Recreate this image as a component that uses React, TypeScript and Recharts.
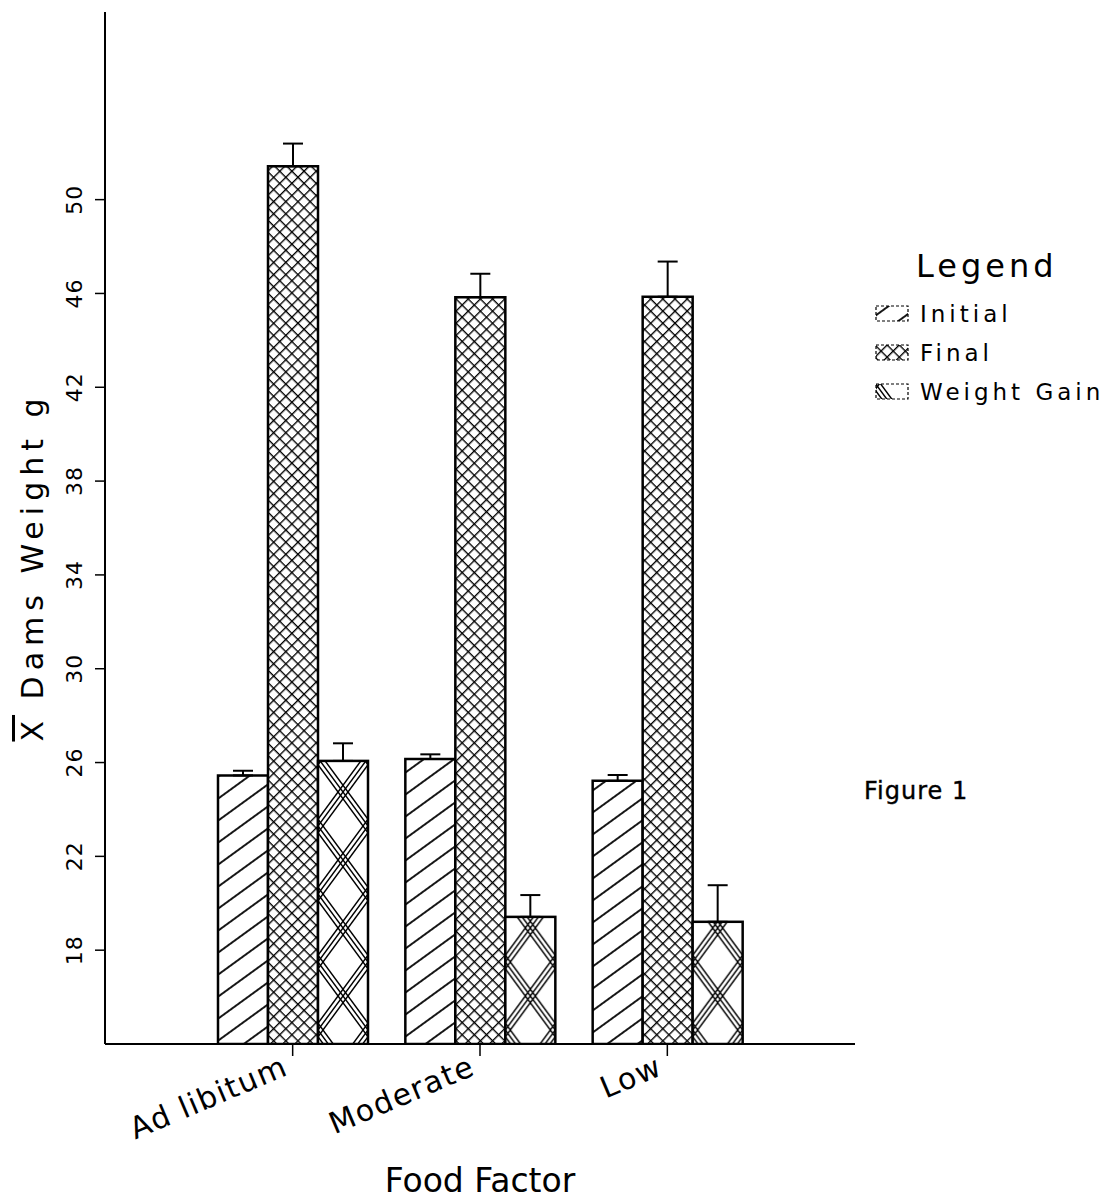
import React from 'react';
import { BarChart, Bar, XAxis, YAxis, ErrorBar, Legend, Label } from 'recharts';

const categories = ['Ad libitum', 'Moderate', 'Low'];
const initialValues = [25.45, 26.15, 25.22];
const finalValues = [51.42, 45.84, 45.86];
const gainValues = [26.07, 19.42, 19.21];
const initialErr = [0.2, 0.2, 0.25];
const finalErr = [0.97, 1.0, 1.5];
const gainErr = [0.75, 0.93, 1.56];
const yTicks = [18, 22, 26, 30, 34, 38, 42, 46, 50];
const seriesNames = ['Initial', 'Final', 'Weight Gain'];

const data = categories.map((c, i) => ({
  name: c,
  initial: initialValues[i],
  final: finalValues[i],
  gain: gainValues[i],
  initialErr: [0, initialErr[i]],
  finalErr: [0, finalErr[i]],
  gainErr: [0, gainErr[i]],
}));

const FONT = '"DejaVu Sans", sans-serif';
const patternIds = ['pat-initial', 'pat-final', 'pat-gain'];
const GAIN_PERIOD_Y = 68;
const GAIN_PHASE = 14;

const gainLines = (w: number, h: number, sw: number) => {
  const out: any[] = [];
  [-w, 0, w].forEach((dx) => {
    [-5, 0, 5].forEach((o) => {
      out.push(<line key={`a${dx}_${o}`} x1={dx + o} y1={0} x2={dx + o + w} y2={h} stroke="#000" strokeWidth={sw} />);
      out.push(<line key={`b${dx}_${o}`} x1={dx + o + w} y1={0} x2={dx + o} y2={h} stroke="#000" strokeWidth={sw} />);
    });
  });
  return out;
};

const Patterns = () => (
  <svg width={0} height={0} style={{ position: 'absolute' }}>
    <defs>
      <pattern id="pat-initial" patternUnits="userSpaceOnUse" width={30} height={17.8} patternTransform="rotate(-36)">
        <rect width={30} height={17.8} fill="#fff" />
        <line x1={0} y1={8.9} x2={30} y2={8.9} stroke="#000" strokeWidth={1.8} />
      </pattern>
      <pattern id="pat-final" patternUnits="userSpaceOnUse" width={8.6} height={8.6} patternTransform="rotate(45)">
        <rect width={8.6} height={8.6} fill="#fff" />
        <line x1={0} y1={0} x2={8.6} y2={0} stroke="#000" strokeWidth={2.7} />
        <line x1={0} y1={0} x2={0} y2={8.6} stroke="#000" strokeWidth={2.7} />
      </pattern>
      <pattern id="pat-gain" patternUnits="userSpaceOnUse" width={50} height={GAIN_PERIOD_Y}>
        <rect width={50} height={GAIN_PERIOD_Y} fill="#fff" />
        {gainLines(50, GAIN_PERIOD_Y, 1.4)}
      </pattern>
    </defs>
  </svg>
);

const GainShape = (props: any) => {
  const { x, y, width, height, index } = props;
  if (x == null || width == null || height == null) return null;
  const id = `pat-gain-bar-${index}`;
  const bottom = y + height;
  return (
    <g>
      <defs>
        <pattern id={id} patternUnits="userSpaceOnUse" x={x} y={bottom - GAIN_PHASE} width={width} height={GAIN_PERIOD_Y}>
          <rect width={width} height={GAIN_PERIOD_Y} fill="#fff" />
          {gainLines(width, GAIN_PERIOD_Y, 1.4)}
        </pattern>
      </defs>
      <rect x={x} y={y} width={width} height={height} fill={`url(#${id})`} stroke="#000" strokeWidth={2.5} />
    </g>
  );
};

const YTick = (props: any) => {
  const { x, y, payload } = props;
  return (
    <text x={x} y={y} transform={`rotate(-90, ${x}, ${y})`} textAnchor="middle" fontSize={22} fontFamily={FONT} fill="#000" letterSpacing={1}>
      {payload.value}
    </text>
  );
};

const XTick = (props: any) => {
  const { x, y, payload } = props;
  return (
    <g transform={`translate(${x - 3}, ${y + 16}) rotate(-23)`}>
      <text x={0} y={0} textAnchor="end" fontSize={30} fontFamily={FONT} fill="#000" letterSpacing={1.5}>
        {payload.value}
      </text>
    </g>
  );
};

const YLabel = () => (
  <text x={43} y={567} transform="rotate(-90, 43, 567)" textAnchor="middle" fontSize={30} fontFamily={FONT} fill="#000" letterSpacing={6}>
    <tspan style={{ textDecoration: 'overline' }}>X</tspan>
    <tspan> Dams Weight g</tspan>
  </text>
);

const XLabel = (props: any) => {
  const vb = props.viewBox || {};
  const cx = vb.x + vb.width / 2;
  return (
    <text x={cx} y={vb.y + 148} textAnchor="middle" fontSize={33} fontFamily={FONT} fill="#000">
      Food Factor
    </text>
  );
};

const LegendContent = (props: any) => {
  const payload = props.payload || [];
  const ordered = seriesNames.map((n) => payload.find((p: any) => p.value === n) || { value: n });
  return (
    <div style={{ fontFamily: FONT, color: '#000' }}>
      <div style={{ fontSize: 32, letterSpacing: 4, marginLeft: 50, lineHeight: '40px', height: 48 }}>Legend</div>
      {ordered.map((entry: any, i: number) => (
        <div key={i} style={{ display: 'flex', alignItems: 'center', height: 39 }}>
          <svg width={34} height={17} style={{ marginRight: 11, marginLeft: 9 }}>
            <rect x={1} y={1} width={32} height={15} fill={`url(#${patternIds[i]})`} stroke="#000" strokeWidth={1.2} strokeDasharray="3 2" />
          </svg>
          <span style={{ fontSize: 23, letterSpacing: 4 }}>{entry.value}</span>
        </div>
      ))}
    </div>
  );
};

export default function App() {
  return (
    <div style={{ position: 'absolute', left: 0, top: 0, width: 1115, height: 1201, background: '#fff' }}>
      <Patterns />
      <BarChart
        width={1115}
        height={1201}
        data={data}
        margin={{ top: 12, right: 260, bottom: 0, left: 45 }}
        barSize={50}
        barGap={0}
      >
        <XAxis
          dataKey="name"
          padding={{ left: 94, right: 94 }}
          height={157}
          axisLine={{ stroke: '#000', strokeWidth: 2 }}
          tickLine={{ stroke: '#000', strokeWidth: 1.5 }}
          tickSize={12}
          tickMargin={2}
          tick={<XTick />}
          interval={0}
        >
          <Label content={<XLabel />} />
        </XAxis>
        <YAxis
          domain={[14, 58]}
          ticks={yTicks}
          width={60}
          axisLine={{ stroke: '#000', strokeWidth: 2 }}
          tickLine={{ stroke: '#000', strokeWidth: 1.5 }}
          tickSize={10}
          tickMargin={13}
          tick={<YTick />}
          allowDataOverflow
        >
          <Label content={<YLabel />} />
        </YAxis>
        <Legend
          layout="horizontal"
          align="center"
          verticalAlign="middle"
          content={<LegendContent />}
          wrapperStyle={{ left: 866, top: 246, width: 249, height: 170 }}
        />
        <Bar dataKey="initial" name={seriesNames[0]} fill="url(#pat-initial)" stroke="#000" strokeWidth={2.5} isAnimationActive={false}>
          <ErrorBar dataKey="initialErr" direction="y" width={10} stroke="#000" strokeWidth={2} />
        </Bar>
        <Bar dataKey="final" name={seriesNames[1]} fill="url(#pat-final)" stroke="#000" strokeWidth={2.5} isAnimationActive={false}>
          <ErrorBar dataKey="finalErr" direction="y" width={10} stroke="#000" strokeWidth={2} />
        </Bar>
        <Bar dataKey="gain" name={seriesNames[2]} fill="url(#pat-gain)" stroke="#000" strokeWidth={2.5} shape={<GainShape />} isAnimationActive={false}>
          <ErrorBar dataKey="gainErr" direction="y" width={10} stroke="#000" strokeWidth={2} />
        </Bar>
      </BarChart>
      <div style={{ position: 'absolute', left: 864, top: 776, fontFamily: FONT, fontSize: 24, letterSpacing: 1, color: '#000', lineHeight: '30px', WebkitTextStroke: '0.4px #000' }}>
        Figure 1
      </div>
    </div>
  );
}
